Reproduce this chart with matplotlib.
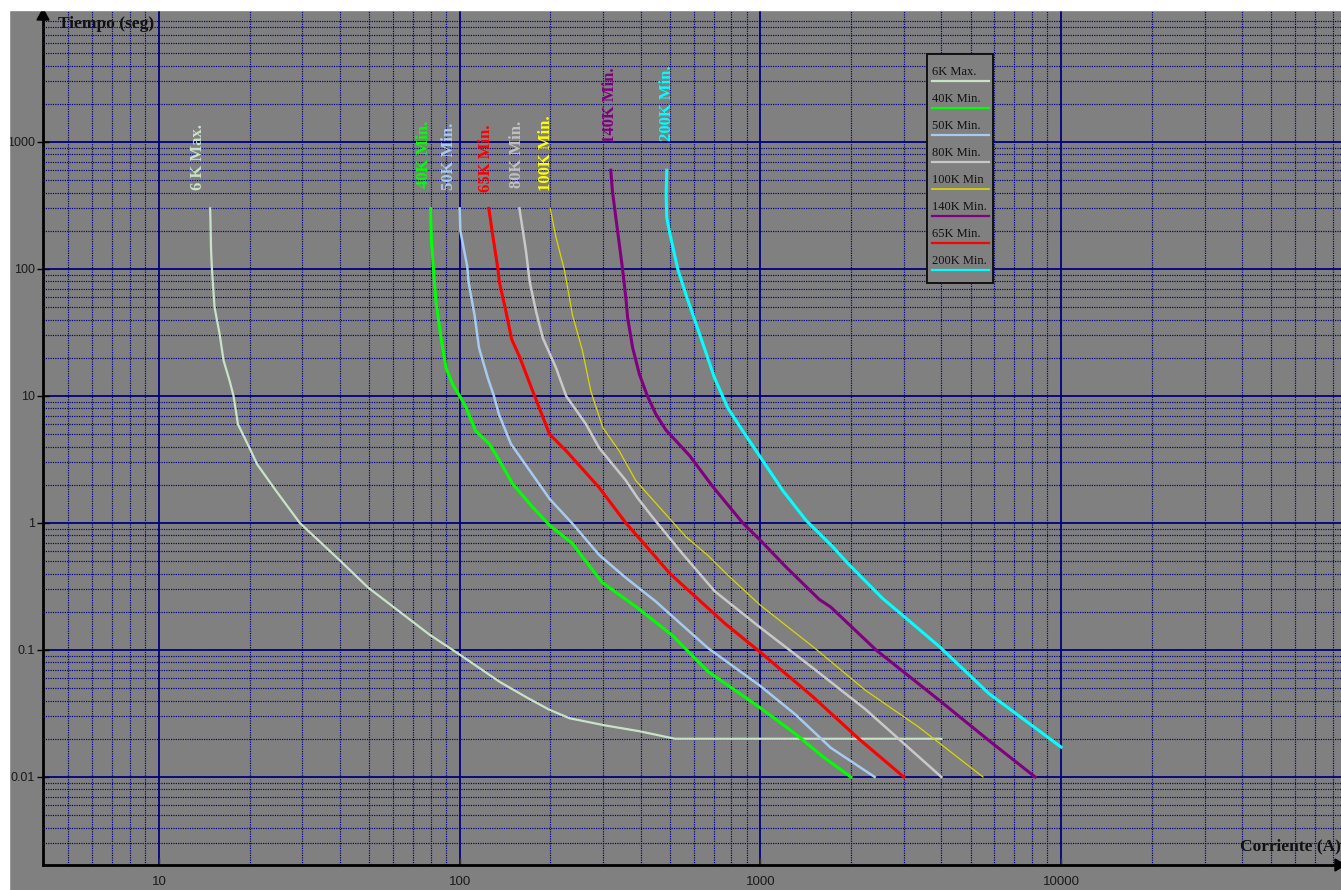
import matplotlib
matplotlib.use("Agg")
import matplotlib.pyplot as plt
from matplotlib.patches import Rectangle, Polygon
from matplotlib.lines import Line2D
from matplotlib import font_manager as fm

# ---------------- data (current in A, time in s) ----------------
i_6k = [14.8, 14.9, 15.0, 15.3, 15.9, 16.4, 17.2, 17.7, 18.3, 20.0, 21.2, 24.6, 29.4, 40, 49.6,
        60.7, 79.4, 100, 136, 168, 198, 232, 304, 397, 520, 4000]
t_6k = [300, 140, 100, 50, 31, 19, 13, 10, 6.0, 3.9, 2.9, 1.77, 1.0, 0.506, 0.31,
        0.215, 0.132, 0.092, 0.056, 0.042, 0.034, 0.029, 0.0255, 0.0229, 0.020, 0.020]

i_40k = [80, 80.5, 82.4, 83.4, 86.7, 90, 94.8, 100, 105, 113, 125.5, 135.6, 150, 175, 199, 237,
         261, 298, 390, 510, 668, 1000, 1309, 1623, 2000]
t_40k = [300, 170, 79, 55, 28.6, 16.7, 12.3, 10, 8.1, 5.3, 4.2, 3.1, 2.03, 1.33, 0.96, 0.69,
         0.51, 0.34, 0.215, 0.13, 0.068, 0.035, 0.0218, 0.0143, 0.01]

i_50k = [100, 100.5, 106, 107, 112, 116, 124, 130, 135, 148, 162, 199, 237, 291, 357, 447, 668,
         1000, 1309, 1713, 2400]
t_50k = [300, 200, 104, 79, 43.6, 23.9, 13.9, 10, 7.2, 4.2, 3.1, 1.55, 0.99, 0.56, 0.37, 0.243,
         0.104, 0.052, 0.031, 0.017, 0.01]

i_65k = [125, 129, 134, 135.5, 142.6, 149, 158, 175, 199, 226, 291, 357, 438, 500, 764, 1000,
         1497, 2124, 3000]
t_65k = [300, 180, 100, 79, 46, 27.8, 20.5, 10.9, 5.0, 3.7, 1.9, 1.0, 0.575, 0.40, 0.161, 0.096,
         0.0427, 0.020, 0.01]

i_80k = [158, 166, 171, 179.6, 189, 209, 226, 263, 291, 357, 390, 438, 550, 705, 1000, 1497,
         2240, 4000]
t_80k = [300, 140, 79, 46, 28.6, 16.7, 10, 6.0, 3.9, 2.16, 1.58, 1.11, 0.575, 0.29, 0.15, 0.072,
         0.034, 0.01]

i_100k = [200, 209, 223, 232, 237, 256, 273, 299, 339, 385, 447, 565, 668, 787, 1000, 1497, 2240,
          3357, 5500]
t_100k = [300, 178, 98, 58.6, 43.6, 22.8, 10.9, 5.65, 3.7, 2.16, 1.45, 0.78, 0.557, 0.38, 0.225,
          0.106, 0.048, 0.0248, 0.01]

i_140k = [318, 322, 335, 348, 357, 362, 376, 396, 421, 449, 485, 581, 695, 874, 1000, 1217, 1570,
          1713, 2432, 3945, 5750, 8200]
t_140k = [600, 412, 200, 100, 59, 41, 24, 14.8, 10, 7.2, 5.4, 3.4, 1.93, 1.0, 0.73, 0.45, 0.25,
          0.218, 0.0994, 0.040, 0.0194, 0.01]

i_200k = [488, 486, 488, 500, 531, 572, 627, 703, 778, 874, 1000, 1187, 1418, 1740, 1958, 2548,
          2930, 3945, 5748, 10000]
t_200k = [600, 390, 255, 190, 100, 58, 31, 14, 8.1, 5.3, 3.3, 1.8, 1.05, 0.65, 0.478, 0.255,
          0.193, 0.106, 0.0455, 0.0172]

curve_labels = ["6 K Max.", "40K Min.", "50K Min.", "65K Min.", "80K Min.", "100K Min.",
                "140K Min.", "200K Min."]
legend_labels = ["6K Max.", "40K Min.", "50K Min.", "80K Min.", "100K Min", "140K Min.",
                 "65K Min.", "200K Min."]
legend_keys = [0, 1, 2, 4, 5, 6, 3, 7]

x_major = [10, 100, 1000, 10000]
x_major_labels = ["10", "100", "1000", "10000"]
y_major = [0.01, 0.1, 1, 10, 100, 1000]
y_major_labels = ["0.01", "0.1", "1", "10", "100", "1000"]

# ---------------- style ----------------
currents = [i_6k, i_40k, i_50k, i_65k, i_80k, i_100k, i_140k, i_200k]
times = [t_6k, t_40k, t_50k, t_65k, t_80k, t_100k, t_140k, t_200k]
line_colors = ["#c8e2c8", "#00ff00", "#a6caf0", "#ff0000", "#c8c8c8", "#d8d800", "#800080", "#00ffff"]
label_colors = ["#c8e2c8", "#00ff00", "#a6caf0", "#ff0000", "#c0c0c0", "#ffff00", "#800080", "#00ffff"]
line_widths = [1.6, 2.2, 1.8, 2.2, 1.8, 0.9, 2.2, 2.2]
label_offsets = [(-12, 18), (-7, 20), (-11, 18), (-3, 16), (-2, 20), (-4, 17), (-1, 27), (0, 29)]

W, H = 1341, 890
GRAY = "#808080"
NAVY = "#000080"
XLIM = (4.114, 85300)
YLIM = (0.002028, 10943)

avail = {f.name for f in fm.fontManager.ttflist}
tick_font = "Liberation Sans Narrow" if "Liberation Sans Narrow" in avail else "Liberation Sans"
serif = "Liberation Serif"

fig = plt.figure(figsize=(W / 100, H / 100), dpi=100, facecolor=GRAY)

def fx(px):
    return px / W

def fy(py):
    return 1 - py / H

ax = fig.add_axes([fx(43), 25 / H, (W - 43) / W, (865 - 10) / H])
ax.set_facecolor(GRAY)
ax.set_xscale("log")
ax.set_yscale("log")

x_minor = [m * 10 ** e for e in range(0, 5) for m in range(2, 10)]
x_minor = [v for v in x_minor if XLIM[0] < v < XLIM[1]]
y_minor = [m * 10 ** e for e in range(-3, 4) for m in range(2, 10)]
y_minor = [v for v in y_minor if YLIM[0] < v < YLIM[1]]
ax.set_xticks(x_major)
ax.set_xticklabels(x_major_labels)
ax.set_xticks(x_minor, minor=True)
ax.set_xticklabels([], minor=True)
ax.set_yticks(y_major)
ax.set_yticklabels(y_major_labels)
ax.set_yticks(y_minor, minor=True)
ax.set_yticklabels([], minor=True)

ax.grid(which="major", color=NAVY, lw=1.3, ls="-", zorder=1)
ax.grid(which="minor", color=NAVY, lw=0.85, ls=(0, (1, 1)), zorder=1)
ax.set_axisbelow(True)
ax.tick_params(which="minor", length=0)
ax.tick_params(axis="y", which="major", direction="inout", length=9, width=1, color="k",
               pad=1, labelsize=9, labelcolor="#1a1a1a")
ax.tick_params(axis="x", which="major", direction="in", length=5, width=1, color="#333333",
               pad=8, labelsize=9.5, labelcolor="#1a1a1a")
for lab in ax.get_xticklabels() + ax.get_yticklabels():
    lab.set_family(tick_font)

for s in ["top", "right"]:
    ax.spines[s].set_visible(False)
for s in ["left", "bottom"]:
    ax.spines[s].set_color("k")
    ax.spines[s].set_linewidth(2)
    ax.spines[s].set_zorder(6)

# curves and rotated labels
for I, t, c, lc, lw, lab, off in zip(currents, times, line_colors, label_colors, line_widths,
                                     curve_labels, label_offsets):
    ax.plot(I, t, color=c, lw=lw, zorder=3, solid_joinstyle="round")
    ax.annotate(lab, xy=(I[0], t[0]), xytext=off, textcoords="offset pixels", rotation=90,
                ha="center", va="bottom", color=lc, fontsize=12, fontweight="bold",
                family=serif, zorder=4)

ax.set_xlim(*XLIM)
ax.set_ylim(*YLIM)

# legend box (drawn manually: text above a short line sample)
fig.add_artist(Rectangle((fx(926.7), fy(283)), fx(992.7) - fx(926.7), fy(54) - fy(283),
                         transform=fig.transFigure, facecolor=GRAY, edgecolor="#111111",
                         lw=1.4, zorder=7))
for k, (name, idx) in enumerate(zip(legend_labels, legend_keys)):
    ty = 71.7 + 27 * k
    ly = 80.7 + 27 * k
    fig.text(fx(931.7), fy(ty), name, ha="left", va="center", fontsize=9, family=serif,
             color="#111111", zorder=8)
    fig.add_artist(Line2D([fx(931.7), fx(989.3)], [fy(ly), fy(ly)], transform=fig.transFigure,
                          color=line_colors[idx], lw=1.2 if idx == 5 else 1.6, zorder=8))

# axis titles
fig.text(fx(58), fy(24), "Tiempo (seg)", ha="left", va="center", fontsize=12.5,
         fontweight="bold", family=serif, color="#111111")
fig.text(fx(1341), fy(846), "Corriente (A)", ha="right", va="center", fontsize=12.5,
         fontweight="bold", family=serif, color="#111111")

# axis arrows
fig.add_artist(Polygon([(fx(43), fy(9)), (fx(37), fy(20)), (fx(49), fy(20))], closed=True,
                       transform=fig.transFigure, color="k", zorder=9))
fig.add_artist(Polygon([(fx(1345), fy(865)), (fx(1335), fy(859)), (fx(1335), fy(871))],
                       closed=True, transform=fig.transFigure, color="k", zorder=9))

# white frame strips of the screenshot
fig.add_artist(Rectangle((0, fy(10)), 1, 10 / H, transform=fig.transFigure, color="white",
                         zorder=10))
fig.add_artist(Rectangle((0, 0), fx(9), 1, transform=fig.transFigure, color="white", zorder=10))

fig.savefig("out.png", dpi=100, facecolor=GRAY)
